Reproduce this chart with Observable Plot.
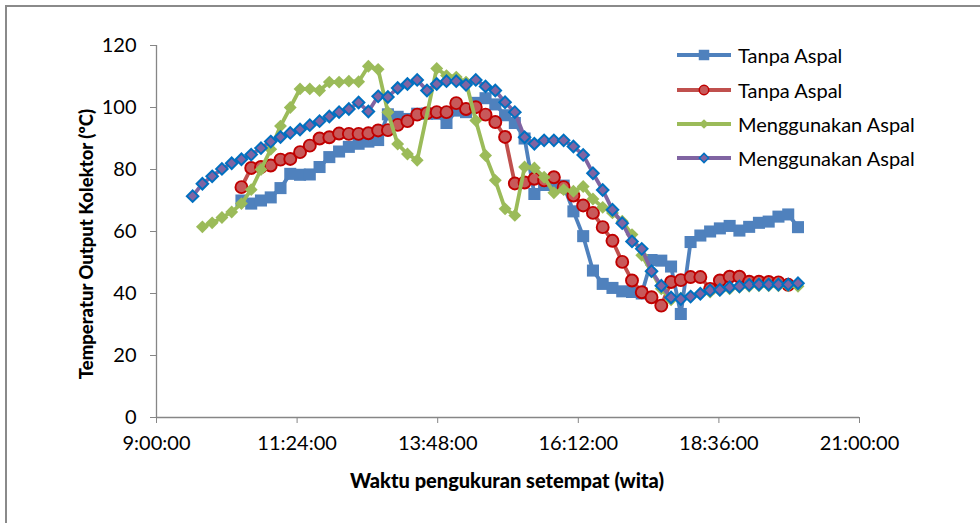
<!DOCTYPE html>
<html><head><meta charset="utf-8">
<script src="https://cdn.jsdelivr.net/npm/d3@7"></script>
<script src="https://cdn.jsdelivr.net/npm/@observablehq/plot@0.6"></script>
<style>
html,body{margin:0;padding:0;background:#fff;width:980px;height:523px;overflow:hidden;}
#wrap{position:relative;width:980px;height:523px;}
#frame{position:absolute;left:5px;top:5px;width:1000px;height:600px;border-left:2px solid #8a8a8a;border-top:2px solid #8a8a8a;box-sizing:border-box;}
#chart{position:absolute;left:0;top:0;}
#legend{position:absolute;left:672px;top:38px;font-family:Lato,sans-serif;font-size:20px;color:#000;}
#legend .row{height:34.4px;display:flex;align-items:center;}
#legend svg{margin-right:5px;}
.title{position:absolute;font-family:Lato,sans-serif;font-weight:900;color:#000;white-space:nowrap;}
#ytitle{left:86px;top:244px;font-size:18.5px;transform:translate(-50%,-50%) rotate(-90deg);}
#xtitle{left:507px;top:480px;font-size:20px;transform:translate(-50%,-50%);}
</style></head>
<body>
<div id="wrap">
  <div id="frame"></div>
  <div id="chart"></div>
  <div id="legend"></div>
  <div class="title" id="ytitle">Temperatur Output Kolektor (ºC)</div>
  <div class="title" id="xtitle">Waktu pengukuran setempat (wita)</div>
</div>
<script>
const times = ["9:37","9:47","9:57","10:07","10:17","10:27","10:37","10:47","10:57","11:07","11:17","11:27","11:37","11:47","11:57","12:07","12:17","12:27","12:37","12:47","12:57","13:07","13:17","13:27","13:37","13:47","13:57","14:07","14:17","14:27","14:37","14:47","14:57","15:07","15:17","15:27","15:37","15:47","15:57","16:07","16:17","16:27","16:37","16:47","16:57","17:07","17:17","17:27","17:37","17:47","17:57","18:07","18:17","18:27","18:37","18:47","18:57","19:07","19:17","19:27","19:37","19:47","19:57"];

const tanpaAspal1 = [null,null,null,null,null,70,69,70,71,74,78.6,78.3,78.4,80.8,84,85.8,87.3,88.3,89,89.5,97.8,97,96.3,98,98,98,95,99,98.5,101.5,103,101,97.5,95,90,72.1,75,75.4,74.8,66.5,58.5,47.4,43.1,41.8,40.7,40.5,40,50.8,50.6,48.7,33.4,56.6,58.7,60,61,61.8,60.3,61.5,62.8,63.2,64.8,65.5,61.4];
const tanpaAspal2 = [null,null,null,null,null,74.3,80.5,80.8,81.3,83.2,83.4,85.6,87.7,90,90.4,91.6,91.5,91.5,91.7,92.6,92.7,94.4,95.6,97.7,98.2,98.5,98.5,101.4,99.5,100.1,97.7,95.3,90.5,75.5,75.8,77,76.5,77.5,74.3,71.6,68.4,66,61.4,57,50.2,44.2,40.4,38.8,36.1,43.7,44.3,45.3,45.3,41.5,44.2,45.4,45.4,43.8,43.8,43.7,43.6,42.8,null];
const aspal1 = [null,61.5,62.8,64.5,66.3,69,73.5,80,86.5,94,100,106,106,105.5,108.2,108.2,108.5,108.3,113.3,112.3,98.5,88.2,85,83,null,112.6,110.3,109.8,108.2,95.8,84.5,76.5,67.3,65.2,80.8,80.5,77.5,72.5,73.5,73,74.5,70.5,67.8,66,63.3,59,52.3,47,41.5,38,38.5,39,40,40.5,41,41.5,42,42.3,42.5,42.5,42.5,42.5,42.3];
const aspal2 = [71.4,75.4,77.8,80.2,82,83.3,84.8,86.9,89,90.5,91.8,92.9,94.3,95.6,97.1,98.5,99.5,101.6,98.7,103.6,103.4,106.3,107.6,108.9,105.5,107.6,108.5,108.5,107.3,108.9,106.8,105.5,101.7,98.5,90.4,88.3,89.4,89.4,89.4,87.4,84.7,78.8,73.4,67,62.7,56.8,54.4,47.2,42.5,38.7,38.2,39,39.9,41,41.2,42,42.3,42.8,42.9,42.9,42.9,42.9,43.3];

const seriesNames = ["Tanpa Aspal","Tanpa Aspal","Menggunakan Aspal","Menggunakan Aspal"];
const xTickLabels = ["9:00:00","11:24:00","13:48:00","16:12:00","18:36:00","21:00:00"];
const yTicks = [0,20,40,60,80,100,120];

const toMin = s => { const [h,m] = s.split(":").map(Number); return h*60+m; };
const xTicks = xTickLabels.map(toMin);
const rows = vals => times.map((t,i)=>({t:toMin(t), v:vals[i]})).filter(d=>d.v!=null);

const styles = [
  {line:"#4F81BD", symbol:"square", r:6.8, fill:"#4F81BD", stroke:"none", sw:0},
  {line:"#C0504D", symbol:"circle", r:6, fill:"#C8595A", stroke:"#C00000", sw:1.9},
  {line:"#9BBB59", symbol:"diamond2", r:5.8, fill:"#9BBB59", stroke:"none", sw:0},
  {line:"#8064A2", symbol:"diamond2", r:5.2, fill:"#8064A2", stroke:"#0070C0", sw:2}
];
const allSeries = [tanpaAspal1, tanpaAspal2, aspal1, aspal2];

const marks = [];
allSeries.forEach((vals,i)=>{
  const st = styles[i];
  const d = rows(vals);
  marks.push(Plot.lineY(d,{x:"t",y:"v",stroke:st.line,strokeWidth:3.8}));
  marks.push(Plot.dot(d,{x:"t",y:"v",symbol:st.symbol,r:st.r,fill:st.fill,stroke:st.stroke,strokeWidth:st.sw}));
});

const chart = Plot.plot({
  width:980, height:523,
  marginLeft:156, marginRight:121, marginTop:45, marginBottom:106,
  style:{fontFamily:"Lato, sans-serif", fontSize:"20px", color:"#000", background:"transparent"},
  x:{domain:[540,1260]},
  y:{domain:[0,120]},
  marks:[
    Plot.axisY({ticks:yTicks, tickSize:6, tickPadding:14, stroke:"#868686", label:null, fontSize:20}),
    Plot.axisX({ticks:xTicks, tickSize:6, tickPadding:12, stroke:"#868686", label:null, fontSize:20,
      tickFormat:(d)=>xTickLabels[xTicks.indexOf(d)]}),
    Plot.ruleX([540],{stroke:"#868686",strokeWidth:1.3}),
    Plot.ruleY([0],{stroke:"#868686",strokeWidth:1.3}),
    ...marks
  ]
});
document.getElementById("chart").appendChild(chart);

// legend
const leg = document.getElementById("legend");
seriesNames.forEach((name,i)=>{
  const st = styles[i];
  const row = document.createElement("div"); row.className="row";
  const svg = d3.create("svg").attr("width",61).attr("height",20);
  svg.append("line").attr("x1",5).attr("x2",59).attr("y1",10).attr("y2",10).attr("stroke",st.line).attr("stroke-width",4);
  const sym = {square:d3.symbolSquare, circle:d3.symbolCircle, diamond2:d3.symbolDiamond2}[st.symbol];
  const size = [110,70,60,55][i];
  svg.append("path").attr("d",d3.symbol(sym,size)()).attr("transform","translate(32,10)")
    .attr("fill",st.fill).attr("stroke",st.stroke).attr("stroke-width",st.sw? 1.5:0);
  row.appendChild(svg.node());
  const span = document.createElement("span"); span.textContent=name;
  row.appendChild(span);
  leg.appendChild(row);
});
</script>
</body></html>
